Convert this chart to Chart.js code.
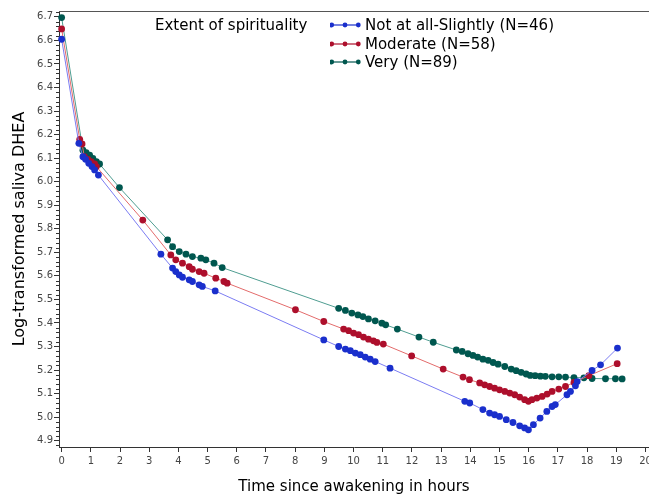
<!DOCTYPE html>
<html><head><meta charset="utf-8">
<script src="https://cdn.jsdelivr.net/npm/chart.js@4"></script>
<style>
html,body{margin:0;padding:0;background:#fff;}
#wrap{position:relative;width:649px;height:498px;overflow:hidden;background:#fff;}
#c{position:absolute;left:0;top:0;}
.lg{position:absolute;font-family:"DejaVu Sans",sans-serif;font-size:15px;line-height:18px;color:#000;white-space:nowrap;}
.lg svg{position:absolute;left:0;top:0;}
.lg span{position:absolute;left:35px;top:0;}
</style></head><body>
<div id="wrap">
<canvas id="c" width="649" height="498"></canvas>
<div class="lg" style="left:155px;top:16px">Extent of spirituality</div>
<div id="legend"></div>
</div>
<script>
// ---- data (hours since awakening, log-transformed DHEA) ----
const seriesNames = ["Not at all-Slightly (N=46)", "Moderate (N=58)", "Very (N=89)"];

const lowT = [0,0.59,0.73,0.82,0.93,1.04,1.13,1.26,3.40,3.80,3.91,4.03,4.14,4.37,4.48,4.71,4.82,5.26,8.98,9.49,9.72,9.89,10.06,10.23,10.40,10.57,10.74,11.25,13.81,13.98,14.43,14.66,14.83,15.00,15.23,15.46,15.69,15.86,15.99,16.16,16.39,16.62,16.80,16.91,17.31,17.43,17.60,17.66,18.17,18.46,19.04];
const lowY = [6.605,6.163,6.106,6.095,6.078,6.064,6.050,6.028,5.692,5.633,5.618,5.604,5.594,5.583,5.576,5.562,5.555,5.536,5.328,5.300,5.289,5.282,5.272,5.265,5.255,5.246,5.236,5.208,5.067,5.060,5.032,5.017,5.010,5.003,4.989,4.977,4.963,4.954,4.946,4.968,4.996,5.024,5.045,5.053,5.095,5.109,5.133,5.151,5.198,5.222,5.293];

const modT = [0,0.62,0.70,0.78,0.90,1.01,1.13,1.19,2.78,3.74,3.91,4.14,4.37,4.48,4.71,4.88,5.28,5.56,5.67,8.01,8.98,9.66,9.83,10.00,10.17,10.34,10.51,10.68,10.80,11.02,11.99,13.07,13.75,13.97,14.32,14.49,14.66,14.83,15.00,15.18,15.35,15.52,15.69,15.86,15.99,16.11,16.28,16.46,16.63,16.80,17.03,17.26,17.55,18.06,19.03];
const modY = [6.649,6.180,6.160,6.106,6.095,6.085,6.075,6.064,5.837,5.689,5.668,5.654,5.639,5.628,5.618,5.611,5.590,5.576,5.569,5.456,5.406,5.374,5.367,5.357,5.350,5.340,5.331,5.324,5.317,5.310,5.260,5.204,5.170,5.159,5.145,5.137,5.130,5.123,5.116,5.109,5.102,5.095,5.085,5.074,5.067,5.074,5.081,5.088,5.098,5.109,5.119,5.130,5.147,5.176,5.227];

const veryT = [0,0.73,0.84,0.96,1.07,1.19,1.30,1.98,3.63,3.80,4.03,4.26,4.48,4.77,4.94,5.22,5.50,9.49,9.72,9.94,10.15,10.32,10.51,10.74,10.97,11.10,11.50,12.24,12.73,13.52,13.72,13.92,14.09,14.25,14.43,14.61,14.78,14.95,15.18,15.40,15.57,15.74,15.91,16.05,16.22,16.40,16.57,16.80,17.03,17.26,17.55,17.89,18.17,18.63,18.97,19.20];
const veryY = [6.697,6.134,6.123,6.113,6.099,6.085,6.075,5.975,5.753,5.724,5.703,5.692,5.682,5.675,5.668,5.654,5.635,5.462,5.453,5.442,5.434,5.427,5.417,5.409,5.399,5.392,5.374,5.340,5.318,5.285,5.279,5.269,5.262,5.255,5.246,5.241,5.232,5.225,5.215,5.204,5.197,5.190,5.183,5.177,5.176,5.174,5.173,5.171,5.171,5.170,5.168,5.167,5.164,5.163,5.163,5.162];

const xTicks = [0,1,2,3,4,5,6,7,8,9,10,11,12,13,14,15,16,17,18,19,20];
const yTicks = [4.9,5.0,5.1,5.2,5.3,5.4,5.5,5.6,5.7,5.8,5.9,6.0,6.1,6.2,6.3,6.4,6.5,6.6,6.7];

// ---- styles ----
const markerColors = ["#1a2fcc", "#ad0f2c", "#00574f"];
const lineColors = ["#7b7cf2", "#e36b6b", "#4f9d91"];

function pts(t, y){ return t.map((v,i)=>({x:v, y:y[i]})); }

// legend (HTML)
const lg = document.getElementById('legend');
const rowTops = [16, 34.5, 53];
seriesNames.forEach((name,i)=>{
  const d = document.createElement('div');
  d.className = 'lg';
  d.style.left = '330px';
  d.style.top = rowTops[i] + 'px';
  d.style.width = '240px'; d.style.height = '18px';
  d.innerHTML = '<svg width="32" height="18"><line x1="1.5" y1="9" x2="28.5" y2="9" stroke="'+markerColors[i]+'" stroke-width="1.2"/>' +
    [1.7,15,28.3].map(cx=>'<circle cx="'+cx+'" cy="9" r="2.4" fill="'+markerColors[i]+'"/>').join('') +
    '</svg><span>'+name+'</span>';
  lg.appendChild(d);
});

const framePlugin = {
  id: 'frame',
  afterDraw(chart){
    const {ctx, chartArea:a, scales:{y}} = chart;
    ctx.save();
    ctx.strokeStyle = '#555';
    ctx.lineWidth = 1.2;
    ctx.beginPath();
    ctx.moveTo(a.left, a.top + 0.5);
    ctx.lineTo(chart.width, a.top + 0.5);
    ctx.stroke();
    // minor ticks on the y axis
    ctx.strokeStyle = '#333';
    ctx.lineWidth = 1;
    ctx.beginPath();
    for (let k = 488; k <= 672; k += 2) {
      if (k % 10 === 0) continue;
      const py = Math.round(y.getPixelForValue(k/100)) + 0.5;
      ctx.moveTo(a.left - 3, py);
      ctx.lineTo(a.left, py);
    }
    ctx.stroke();
    ctx.restore();
  }
};

const tickFont = {family: 'DejaVu Sans', size: 10};
const titleFont = {family: 'DejaVu Sans', size: 15};

new Chart(document.getElementById('c'), {
  type: 'line',
  data: {
    datasets: [
      {label: seriesNames[0], data: pts(lowT, lowY)},
      {label: seriesNames[1], data: pts(modT, modY)},
      {label: seriesNames[2], data: pts(veryT, veryY)}
    ].map((d,i)=>Object.assign(d, {
      borderColor: lineColors[i], borderWidth: 1, tension: 0,
      pointRadius: 3.4, pointBorderWidth: 0, pointBackgroundColor: markerColors[i],
      pointBorderColor: markerColors[i], fill: false, clip: false
    }))
  },
  options: {
    responsive: false, animation: false, devicePixelRatio: 1,
    layout: {autoPadding: false, padding: {top: 11, right: 0, left: 0, bottom: 0}},
    plugins: {legend: {display: false}, tooltip: {enabled: false}},
    scales: {
      x: {
        type: 'linear', min: -0.09, max: 20.12,
        afterBuildTicks(s){ s.ticks = xTicks.map(v=>({value:v})); },
        afterFit(s){ s.height = 51; s.paddingLeft = 0; s.paddingRight = 0; },
        ticks: {font: tickFont, color: '#444', padding: 3, maxRotation: 0, autoSkip: false, callback: v => String(v)},
        grid: {drawOnChartArea: false, drawTicks: true, tickLength: 5, color: '#333'},
        border: {display: true, color: '#333', width: 1},
        title: {display: true, text: 'Time since awakening in hours', font: titleFont, color: '#000', padding: {top: 0, bottom: 2}}
      },
      y: {
        type: 'linear', min: 4.873, max: 6.725,
        afterBuildTicks(s){ s.ticks = yTicks.map(v=>({value:v})); },
        afterFit(s){ s.width = 59; s.paddingTop = 0; s.paddingBottom = 0; },
        ticks: {font: tickFont, color: '#444', padding: 1, autoSkip: false, callback: v => v.toFixed(1)},
        grid: {drawOnChartArea: false, drawTicks: true, tickLength: 5, color: '#333'},
        border: {display: true, color: '#333', width: 1},
        title: {display: true, text: 'Log-transformed saliva DHEA', font: {family: 'DejaVu Sans', size: 16}, color: '#000', padding: {top: 10, bottom: 0}}
      }
    }
  },
  plugins: [framePlugin]
});
</script>
</body></html>
